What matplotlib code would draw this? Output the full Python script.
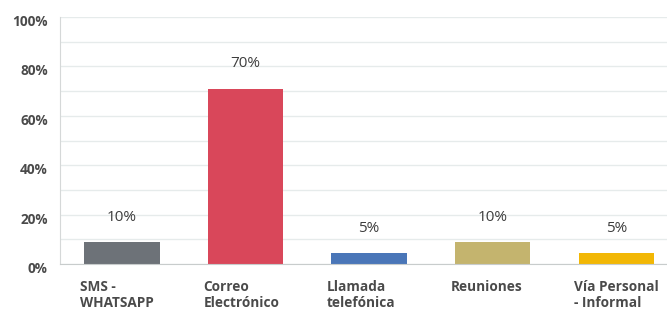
import matplotlib.pyplot as plt
import matplotlib.transforms as mtransforms
import numpy as np

categories = ["SMS -\nWHATSAPP", "Correo\nElectrónico", "Llamada\ntelefónica", "Reuniones", "Vía Personal\n- Informal"]
values = [9, 71, 4.5, 9, 4.5]
labels = ["10%", "70%", "5%", "10%", "5%"]
colors = ["#6d7278", "#d9475a", "#4a76b8", "#c4b46e", "#f2b705"]
yticks = [0, 20, 40, 60, 80, 100]

plt.rcParams['font.family'] = ['Open Sans', 'DejaVu Sans']

fig = plt.figure(figsize=(6.67, 3.11), dpi=100)
ax = fig.add_axes([60 / 667, (311 - 264) / 311, 1 - 60 / 667, (264 - 17) / 311])

x = np.arange(len(categories))
ax.bar(x, values, width=0.61, color=colors, zorder=2)

for xi, v, lab in zip(x, values, labels):
    ax.text(xi, v + 10, lab, ha='center', va='center', fontsize=11, color='#3d3d3d', zorder=3)

ax.set_xlim(-0.5, 4.41)
ax.set_ylim(0, 100)
ax.set_yticks(np.arange(0, 101, 10), minor=False)
ax.yaxis.grid(True, color='#e6ebeb', linewidth=1, zorder=0)
ax.set_yticklabels([])
ax.tick_params(axis='both', length=0)
ax.set_xticks([])

offset = mtransforms.offset_copy(ax.transData, fig=fig, x=0, y=-5, units='dots')
for t in yticks:
    ax.text(-0.6, t, f"{t}%", ha='right', va='center', fontsize=9.8, fontweight='bold',
            color='#4a4a4a', transform=mtransforms.blended_transform_factory(ax.transData, offset))

trans = mtransforms.blended_transform_factory(ax.transData, ax.transAxes)
for xi, cat in zip(x, categories):
    ax.text(xi - 0.34, -0.065, cat, ha='left', va='top', fontsize=9.8, fontweight='bold',
            color='#4a4a4a', transform=trans, linespacing=1.2)

for s in ['top', 'right']:
    ax.spines[s].set_visible(False)
ax.spines['left'].set_color('#d5d8d8')
ax.spines['bottom'].set_color('#c8cccc')

fig.savefig("out.png", dpi=100)
